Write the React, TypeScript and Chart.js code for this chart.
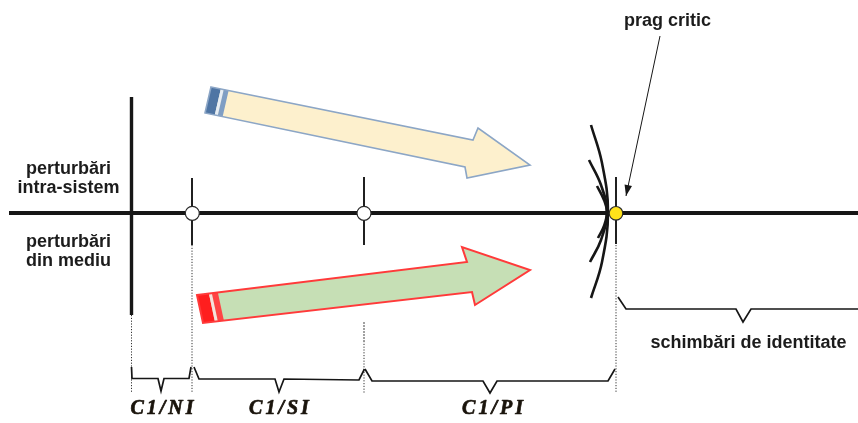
import React, { useEffect, useRef } from "react";
import { Chart, registerables } from "chart.js";

Chart.register(...registerables);

type P = { x: number; y: number };

// ---- diagram data (units = pixels of the original figure) ----
const mainAxis: P[] = [{ x: 9, y: 213 }, { x: 858, y: 213 }];
const startBar: P[] = [{ x: 131.5, y: 97 }, { x: 131.5, y: 315 }];
const stageTicks: P[][] = [
  [{ x: 192, y: 178 }, { x: 192, y: 245 }],
  [{ x: 364, y: 177 }, { x: 364, y: 245 }],
  [{ x: 616, y: 177 }, { x: 616, y: 244 }],
];
const openNodes: P[] = [{ x: 192.3, y: 213.3 }, { x: 364, y: 213.3 }];
const criticalNode: P[] = [{ x: 616, y: 213.3 }];
const guideLines: P[][] = [
  [{ x: 131.5, y: 315 }, { x: 131.5, y: 393 }],
  [{ x: 192, y: 245 }, { x: 192, y: 393 }],
  [{ x: 364, y: 341 }, { x: 364, y: 393 }],
  [{ x: 616, y: 245 }, { x: 616, y: 393 }],
];
const graySegment: P[] = [{ x: 364, y: 322 }, { x: 364, y: 341 }];
const braces: P[][] = [
  [{ x: 131.5, y: 367 }, { x: 132, y: 378.5 }, { x: 158, y: 378.5 }, { x: 161, y: 391 }, { x: 164, y: 378.5 }, { x: 189, y: 378.5 }, { x: 191, y: 367 }],
  [{ x: 194, y: 367 }, { x: 199, y: 379 }, { x: 275, y: 379 }, { x: 279, y: 392 }, { x: 284, y: 379 }, { x: 359, y: 380 }, { x: 364.5, y: 369 }],
  [{ x: 365, y: 369 }, { x: 372, y: 381 }, { x: 483, y: 381 }, { x: 490, y: 393 }, { x: 497, y: 381 }, { x: 608, y: 381 }, { x: 615, y: 369 }],
  [{ x: 618, y: 297 }, { x: 626, y: 309 }, { x: 736, y: 309 }, { x: 743, y: 322 }, { x: 751, y: 309 }, { x: 858, y: 309 }],
];
const arcs: P[][] = [
  [{ x: 591, y: 125 }, { x: 602, y: 163 }, { x: 608, y: 212 }, { x: 602, y: 262 }, { x: 591, y: 298 }],
  [{ x: 589, y: 160 }, { x: 601, y: 185 }, { x: 607, y: 212 }, { x: 601, y: 240 }, { x: 590, y: 262 }],
  [{ x: 597, y: 186 }, { x: 604, y: 200 }, { x: 607, y: 212 }, { x: 604, y: 226 }, { x: 598, y: 238 }],
];
const pointer: P[] = [{ x: 660, y: 36 }, { x: 626, y: 196 }];
// block arrows: tailTop, notchTop, headTop, tip, headBottom, notchBottom, tailBottom
const arrowIntra: P[] = [
  { x: 211, y: 87 }, { x: 473, y: 140 }, { x: 478, y: 128 }, { x: 530, y: 165 },
  { x: 467, y: 178 }, { x: 465, y: 167 }, { x: 205, y: 113 },
];
const arrowMediu: P[] = [
  { x: 197, y: 295 }, { x: 467, y: 262 }, { x: 462, y: 247 }, { x: 530, y: 270 },
  { x: 475, y: 305 }, { x: 472, y: 292 }, { x: 203, y: 323 },
];

// ---- texts ----
const leftLabels = ["perturbări", "intra-sistem", "perturbări", "din mediu"];
const leftLabelAnchors: P[] = [{ x: 68.5, y: 173.5 }, { x: 68.5, y: 192.5 }, { x: 68.5, y: 247 }, { x: 68.5, y: 266 }];
const stageLabels = ["C1/NI", "C1/SI", "C1/PI"];
const stageLabelAnchors: P[] = [{ x: 162, y: 414 }, { x: 279, y: 414 }, { x: 492.5, y: 414 }];
const noteLabels = ["prag critic", "schimbări de identitate"];
const noteLabelAnchors: P[] = [{ x: 667.5, y: 26 }, { x: 748.5, y: 348 }];

const INK = "#161616";

function lineDs(data: P[], extra: any = {}) {
  return {
    type: "line" as const,
    data,
    showLine: true,
    borderColor: INK,
    borderWidth: 1.6,
    pointRadius: 0,
    pointHoverRadius: 0,
    tension: 0,
    fill: false,
    ...extra,
  };
}

const diagramPlugin = {
  id: "diagram",
  beforeDatasetsDraw(chart: any) {
    const { ctx, scales } = chart;
    const px = (p: P) => ({ x: scales.x.getPixelForValue(p.x), y: scales.y.getPixelForValue(p.y) });
    const drawArrow = (pts: P[], fill: string, stroke: string, lw: number, stripes: [number, number, string][]) => {
      const q = pts.map(px);
      ctx.save();
      ctx.beginPath();
      q.forEach((p, i) => (i ? ctx.lineTo(p.x, p.y) : ctx.moveTo(p.x, p.y)));
      ctx.closePath();
      ctx.fillStyle = fill;
      ctx.fill();
      // tail stripes
      const t0 = q[0], t1 = q[1], b0 = q[6], b1 = q[5];
      const lt = Math.hypot(t1.x - t0.x, t1.y - t0.y);
      const lb = Math.hypot(b1.x - b0.x, b1.y - b0.y);
      const ut = { x: (t1.x - t0.x) / lt, y: (t1.y - t0.y) / lt };
      const ub = { x: (b1.x - b0.x) / lb, y: (b1.y - b0.y) / lb };
      stripes.forEach(([d0, d1, c]) => {
        ctx.beginPath();
        ctx.moveTo(t0.x + ut.x * d0, t0.y + ut.y * d0);
        ctx.lineTo(t0.x + ut.x * d1, t0.y + ut.y * d1);
        ctx.lineTo(b0.x + ub.x * d1, b0.y + ub.y * d1);
        ctx.lineTo(b0.x + ub.x * d0, b0.y + ub.y * d0);
        ctx.closePath();
        ctx.fillStyle = c;
        ctx.fill();
      });
      ctx.beginPath();
      q.forEach((p, i) => (i ? ctx.lineTo(p.x, p.y) : ctx.moveTo(p.x, p.y)));
      ctx.closePath();
      ctx.strokeStyle = stroke;
      ctx.lineWidth = lw;
      ctx.lineJoin = "miter";
      ctx.stroke();
      ctx.restore();
    };
    drawArrow(arrowIntra, "#FDF0CD", "#8CA6C6", 1.6, [
      [0, 10, "#4F75A4"],
      [10, 13, "#E6EDF5"],
      [13, 18, "#7F9EC4"],
    ]);
    drawArrow(arrowMediu, "#C6DFB5", "#FF3A3A", 2, [
      [0, 12, "#FF1E1E"],
      [12, 15, "#F6E2DC"],
      [15, 21, "#FF4444"],
    ]);
  },
  afterDatasetsDraw(chart: any) {
    const { ctx, scales } = chart;
    const px = (p: P) => ({ x: scales.x.getPixelForValue(p.x), y: scales.y.getPixelForValue(p.y) });
    ctx.save();
    // pointer arrowhead
    const a = px(pointer[0]);
    const b = px(pointer[1]);
    const ang = Math.atan2(b.y - a.y, b.x - a.x);
    const L = 11, Wd = 3.8;
    ctx.beginPath();
    ctx.moveTo(b.x, b.y);
    ctx.lineTo(b.x - L * Math.cos(ang) + Wd * Math.sin(ang), b.y - L * Math.sin(ang) - Wd * Math.cos(ang));
    ctx.lineTo(b.x - L * Math.cos(ang) - Wd * Math.sin(ang), b.y - L * Math.sin(ang) + Wd * Math.cos(ang));
    ctx.closePath();
    ctx.fillStyle = INK;
    ctx.fill();

    // texts
    ctx.fillStyle = "#1c1c1c";
    ctx.textAlign = "center";
    ctx.textBaseline = "alphabetic";
    ctx.font = 'bold 18px "Liberation Sans", Arial, sans-serif';
    leftLabels.forEach((t, i) => {
      const p = px(leftLabelAnchors[i]);
      ctx.fillText(t, p.x, p.y);
    });
    noteLabels.forEach((t, i) => {
      const p = px(noteLabelAnchors[i]);
      ctx.fillText(t, p.x, p.y);
    });
    ctx.font = 'italic bold 20px "Liberation Serif", "DejaVu Serif", serif';
    (ctx as any).letterSpacing = "3px";
    ctx.fillStyle = "#1a140c";
    ctx.strokeStyle = "#1a140c";
    ctx.lineWidth = 0.7;
    ctx.lineJoin = "round";
    stageLabels.forEach((t, i) => {
      const p = px(stageLabelAnchors[i]);
      ctx.fillText(t, p.x + 1.5, p.y);
      ctx.strokeText(t, p.x + 1.5, p.y);
    });
    (ctx as any).letterSpacing = "0px";
    ctx.restore();
  },
};

export default function App() {
  const ref = useRef<HTMLCanvasElement | null>(null);
  useEffect(() => {
    document.body.style.margin = "0";
    if (!ref.current) return;
    const datasets: any[] = [
      {
        type: "scatter",
        data: criticalNode,
        pointRadius: 6.8,
        pointBackgroundColor: "#FFE21A",
        pointBorderColor: "#2a2a2a",
        pointBorderWidth: 1.2,
        showLine: false,
      },
      {
        type: "scatter",
        data: openNodes,
        pointRadius: 7,
        pointBackgroundColor: "#ffffff",
        pointBorderColor: "#2a2a2a",
        pointBorderWidth: 1.2,
        showLine: false,
      },
      ...stageTicks.map((d) => lineDs(d, { borderWidth: 1.9 })),
      lineDs(mainAxis, { borderWidth: 4 }),
      lineDs(startBar, { borderWidth: 3.4 }),
      ...arcs.map((d) => lineDs(d, { borderWidth: 2.6, tension: 0.4 })),
      lineDs(pointer, { borderWidth: 1 }),
      ...braces.map((d) => lineDs(d, { borderWidth: 1.7, borderJoinStyle: "miter" })),
      ...guideLines.map((d) => lineDs(d, { borderWidth: 1, borderDash: [1.2, 1.6], borderColor: "#333" })),
      lineDs(graySegment, { borderWidth: 1.6, borderDash: [2, 1], borderColor: "#8a8a8a" }),
    ];
    const chart = new Chart(ref.current, {
      type: "scatter",
      data: { datasets },
      options: {
        animation: false,
        responsive: true,
        maintainAspectRatio: false,
        events: [],
        layout: { padding: 0, autoPadding: false },
        plugins: { legend: { display: false }, tooltip: { enabled: false } },
        scales: {
          x: { type: "linear", min: 0, max: 858, display: false },
          y: { type: "linear", min: 0, max: 423, reverse: true, display: false },
        },
      },
      plugins: [diagramPlugin],
    } as any);
    return () => chart.destroy();
  }, []);
  return (
    <div style={{ width: 858, height: 423, position: "relative", background: "#fff" }}>
      <canvas ref={ref} style={{ display: "block" }} />
    </div>
  );
}
